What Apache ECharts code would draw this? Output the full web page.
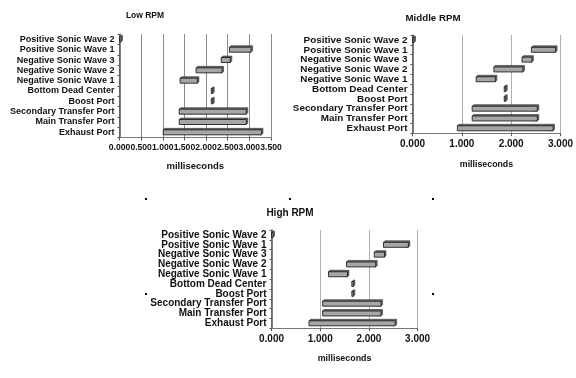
<!DOCTYPE html>
<html>
<head>
<meta charset="utf-8">
<script src="https://cdn.jsdelivr.net/npm/echarts@6/dist/echarts.min.js"></script>
<style>
  html, body { margin: 0; padding: 0; background: #fff; }
  #chart { width: 576px; height: 378px; }
</style>
</head>
<body>
<div id="chart"></div>
<script>
// categories, top to bottom
var events = [
  'Positive Sonic Wave 2', 'Positive Sonic Wave 1', 'Negative Sonic Wave 3',
  'Negative Sonic Wave 2', 'Negative Sonic Wave 1', 'Bottom Dead Center',
  'Boost Port', 'Secondary Transfer Port', 'Main Transfer Port', 'Exhaust Port'
];

// start / end times (ms) per event, same order as events
var lowStart = [0.00, 2.54, 2.35, 1.77, 1.40, 2.12, 2.12, 1.38, 1.38, 1.01];
var lowEnd   = [0.03, 3.04, 2.56, 2.37, 1.80, 2.13, 2.13, 2.93, 2.93, 3.28];

var midStart = [0.00, 2.41, 2.22, 1.65, 1.29, 1.86, 1.86, 1.21, 1.21, 0.91];
var midEnd   = [0.03, 2.90, 2.42, 2.24, 1.68, 1.87, 1.87, 2.53, 2.53, 2.85];

var highStart = [0.00, 2.30, 2.11, 1.54, 1.17, 1.65, 1.65, 1.05, 1.05, 0.77];
var highEnd   = [0.03, 2.81, 2.32, 2.14, 1.56, 1.66, 1.66, 2.25, 2.25, 2.54];

var lowTicks = [0, 0.5, 1, 1.5, 2, 2.5, 3, 3.5];
var midTicks = [0, 1, 2, 3];
var highTicks = [0, 1, 2, 3];

var FONT = 'Liberation Sans, Arial, sans-serif';

function toData(starts, ends) {
  return events.map(function (e, i) { return [i, starts[i], ends[i]]; });
}

function renderBar(params, api) {
  var cat = api.value(0);
  var p0 = api.coord([api.value(1), cat]);
  var p1 = api.coord([api.value(2), cat]);
  var h = 5;
  var d = 1.5;
  var w = Math.max(p1[0] - p0[0], 1.5);
  var x = p0[0];
  var y = p0[1] - h / 2;
  return {
    type: 'group',
    children: [
      {
        type: 'polygon',
        shape: { points: [[x, y], [x + d, y - d], [x + w + d, y - d], [x + w + d, y + h - d], [x + w, y + h]] },
        style: { fill: '#6a6a6a', stroke: '#333', lineWidth: 0.6 }
      },
      {
        type: 'rect',
        shape: { x: x, y: y, width: w, height: h },
        style: { fill: '#a6a6a6', stroke: '#222', lineWidth: 0.9 }
      }
    ]
  };
}

// one panel: grid + axes + series
var panels = [
  { title: 'Low RPM', titleX: 145, titleY: 11, titleSize: 8.5, left: 119.5, right: 305, top: 34.2, bottom: 240.5,
    ticks: lowTicks, interval: 0.5, tickSize: 8.6, catSize: 9, nameSize: 9.5, nameGap: 15.5,
    grid: '#8a8a8a', starts: lowStart, ends: lowEnd },
  { title: 'Middle RPM', titleX: 433, titleY: 13, titleSize: 9.7, left: 412.5, right: 15, top: 35.1, bottom: 244.8,
    ticks: midTicks, interval: 1, tickSize: 10, catSize: 9.9, nameSize: 8.8, nameGap: 17,
    grid: '#b0b0b0', starts: midStart, ends: midEnd },
  { title: 'High RPM', titleX: 290, titleY: 208, titleSize: 10, left: 271.5, right: 158.4, top: 230.1, bottom: 49.8,
    ticks: highTicks, interval: 1, tickSize: 10, catSize: 10, nameSize: 8.9, nameGap: 16,
    grid: '#b0b0b0', starts: highStart, ends: highEnd }
];

var option = {
  backgroundColor: '#fff',
  animation: false,
  title: [],
  grid: [],
  xAxis: [],
  yAxis: [],
  series: [],
  graphic: []
};

panels.forEach(function (p, i) {
  option.title.push({
    text: p.title,
    left: p.titleX, top: p.titleY,
    padding: 0,
    textAlign: 'center',
    textStyle: { fontFamily: FONT, fontSize: p.titleSize, fontWeight: 'bold', color: '#111' }
  });
  option.grid.push({ left: p.left, right: p.right, top: p.top, bottom: p.bottom, containLabel: false });
  option.xAxis.push({
    type: 'value',
    gridIndex: i,
    min: p.ticks[0],
    max: p.ticks[p.ticks.length - 1],
    interval: p.interval,
    name: 'milliseconds',
    nameLocation: 'middle',
    nameGap: p.nameGap + p.tickSize,
    nameTextStyle: { fontFamily: FONT, fontSize: p.nameSize, fontWeight: 'bold', color: '#111' },
    axisLine: { show: true, lineStyle: { color: '#777', width: 1 } },
    axisTick: { show: true, length: 3, lineStyle: { color: '#555' } },
    axisLabel: {
      fontFamily: FONT, fontSize: p.tickSize, fontWeight: 'bold', color: '#111', margin: 6,
      showMinLabel: true, showMaxLabel: true, hideOverlap: false,
      formatter: function (v) { return v.toFixed(3); }
    },
    splitLine: { show: true, lineStyle: { color: p.grid, width: 1 } }
  });
  option.yAxis.push({
    type: 'category',
    gridIndex: i,
    inverse: true,
    data: events,
    axisLine: { show: true, lineStyle: { color: '#555', width: 1.5 } },
    axisTick: { show: true, length: 2, lineStyle: { color: '#555' } },
    axisLabel: { fontFamily: FONT, fontSize: p.catSize, fontWeight: 'bold', color: '#111', margin: 5, interval: 0 },
    splitLine: { show: false }
  });
  option.series.push({
    type: 'custom',
    xAxisIndex: i,
    yAxisIndex: i,
    renderItem: renderBar,
    encode: { x: [1, 2], y: 0 },
    data: toData(p.starts, p.ends)
  });
});

// selection handles around the lower panel
[[146, 199], [290, 199], [433, 199], [146, 294], [433, 294]].forEach(function (pt) {
  option.graphic.push({ type: 'rect', shape: { x: pt[0] - 1, y: pt[1] - 1, width: 2, height: 2 }, style: { fill: '#000' } });
});

var chart = echarts.init(document.getElementById('chart'), null, { renderer: 'canvas' });
chart.setOption(option);
</script>
</body>
</html>
